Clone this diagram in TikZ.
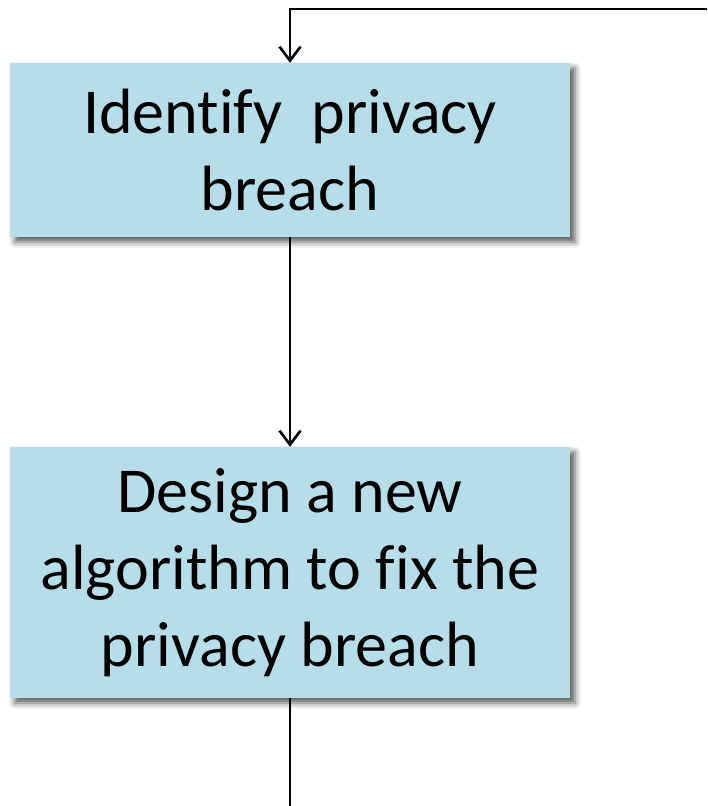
\documentclass[tikz,border=0pt]{standalone}
\usepackage{fontspec}
\setmainfont{Carlito}[Ligatures=NoCommon]
\usetikzlibrary{arrows.meta,shadows.blur}
\definecolor{boxfill}{RGB}{183,221,232}
\tikzset{
  stepbox/.style={draw=none, fill=boxfill, minimum width=560pt, align=center,
    font=\fontsize{64}{77}\selectfont, inner sep=0pt,
    blur shadow={shadow xshift=5pt, shadow yshift=-5pt, shadow blur radius=6pt, shadow opacity=65}},
  flow/.style={line width=2.8pt, -{Straight Barb[length=14pt,width=21pt,line width=2.6pt]}},
  plain/.style={line width=2.8pt}
}
\begin{document}
\begin{tikzpicture}[x=1pt,y=1pt]
  \useasboundingbox (0,0) rectangle (707,-806);
  \node[stepbox, minimum height=174pt] (identify) at (290,-150) {Identify~ privacy\\breach};
  \node[stepbox, minimum height=251pt] (design) at (290,-572.5) {Design a new\\algorithm to fix the\\privacy breach};
  \coordinate (loopin) at (707,-9);
  \coordinate (loopout) at (290,-806);
  \draw[flow] (loopin) -| (identify.north);
  \draw[flow] (identify.south) -- (design.north);
  \draw[plain] (design.south) -- (loopout);
\end{tikzpicture}
\end{document}
